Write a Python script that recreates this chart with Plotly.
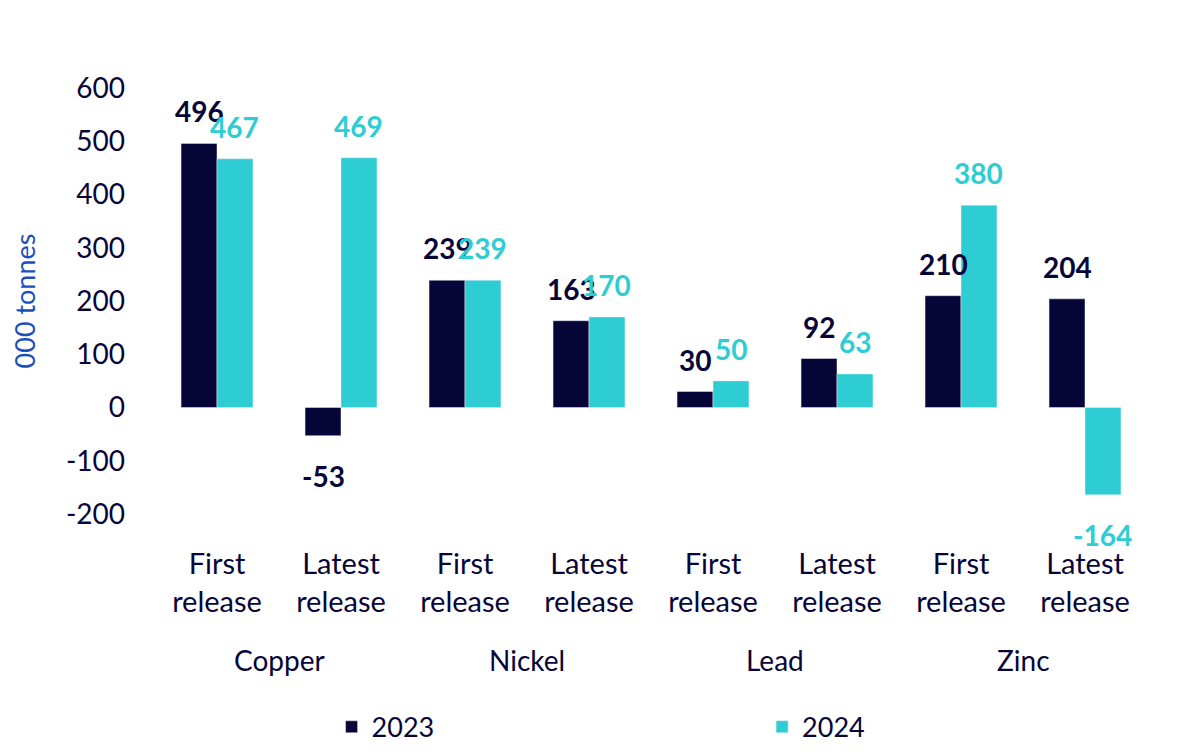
import plotly.graph_objects as go

metals = ["Copper", "Nickel", "Lead", "Zinc"]
releases = ["First<br>release", "Latest<br>release"] * 4
values_2023 = [496, -53, 239, 163, 30, 92, 210, 204]
values_2024 = [467, 469, 239, 170, 50, 63, 380, -164]
y_ticks = [-200, -100, 0, 100, 200, 300, 400, 500, 600]

navy = "#070538"
teal = "#2ECCD3"
font = "Lato"
bargap = 0.42

positions = list(range(len(releases)))

fig = go.Figure()
fig.add_trace(go.Bar(x=positions, y=values_2023, name="2023", legend="legend",
                     marker=dict(color=navy)))
fig.add_trace(go.Bar(x=positions, y=values_2024, name="2024", legend="legend2",
                     marker=dict(color=teal)))

# value labels, a little further from the bar ends than plotly's own outside text
half = (1 - bargap) / 4
for values, side, color in [(values_2023, -1, navy), (values_2024, 1, teal)]:
    for p, v in zip(positions, values):
        fig.add_annotation(x=p + side * half, y=v, xref="x", yref="y",
                           text=f"<b>{v}</b>", showarrow=False,
                           yanchor="bottom" if v >= 0 else "top",
                           yshift=13 if v >= 0 else -21,
                           font=dict(size=28, color=color, family=font))

# metal group labels below the release labels
for i, m in enumerate(metals):
    fig.add_annotation(x=2 * i + 0.5, xref="x", y=-0.342, yref="paper",
                       text=m, showarrow=False, yanchor="middle",
                       font=dict(size=28, color=navy, family=font))

legend_style = dict(orientation="h", xanchor="left", y=-0.443, yanchor="top",
                    font=dict(size=27, color=navy, family=font))

fig.update_layout(
    width=1200, height=756,
    paper_bgcolor="white", plot_bgcolor="white",
    font=dict(family=font, size=27, color=navy),
    barmode="group", bargap=bargap, bargroupgap=0,
    margin=dict(l=147, r=61, t=80, b=243),
    showlegend=True,
    legend=dict(x=0.178, **legend_style),
    legend2=dict(x=0.612, **legend_style),
)
fig.update_yaxes(range=[-200, 600], tickvals=y_ticks, ticktext=[str(v) for v in y_ticks],
                 showgrid=False, zeroline=False, automargin=False,
                 showline=False, ticks="", ticklabelstandoff=29,
                 tickfont=dict(size=28, color=navy),
                 title=dict(text="000 tonnes", font=dict(size=27, color="#1A4FC0"), standoff=34))
fig.update_xaxes(range=[-0.5, 7.5], tickvals=positions, ticktext=releases,
                 showgrid=False, zeroline=False, automargin=False,
                 showline=False, ticks="", ticklabelstandoff=30,
                 tickfont=dict(size=29, color=navy))

fig.write_html("out.html")
